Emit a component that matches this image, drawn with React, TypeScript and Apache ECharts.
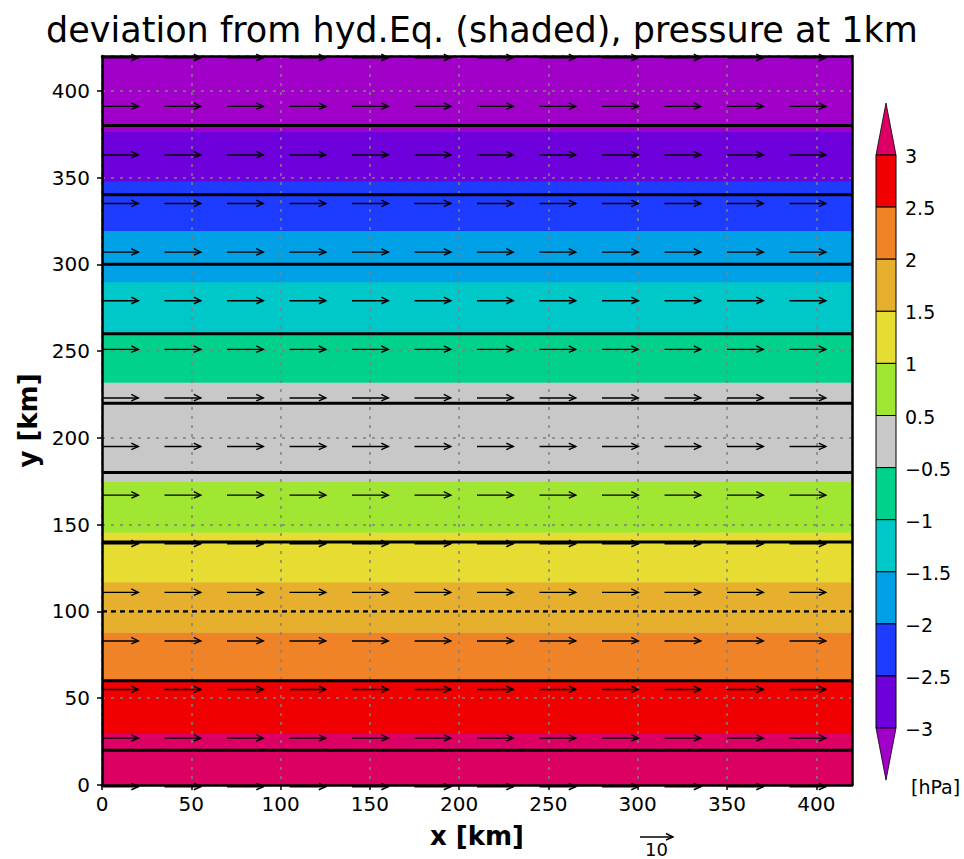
import React, { useEffect, useRef } from 'react';
import * as echarts from 'echarts';

// colour palette, from highest value (top of colour bar / bottom of map) to lowest
const palette = ['#dc0064', '#f00000', '#f08228', '#e6af2d', '#e6dc32', '#a0e632', '#c8c8c8', '#00d28c', '#00c8c8', '#00a0e6', '#1e3cff', '#6e00dc', '#a000c8'];
// shaded bands (y in km), each with palette index
const bandBottoms = [0, 30, 60, 88, 117, 145.6, 175, 232, 259, 290, 319.4, 348, 376.5];
const bandTops = [30, 60, 88, 117, 145.6, 175, 232, 259, 290, 319.4, 348, 376.5, 420];
const bandColorIndex = [0, 1, 2, 3, 4, 5, 6, 7, 8, 9, 10, 11, 12];
// pressure contours (y in km)
const contourLevels = [20, 60, 100, 140, 180, 220, 260, 300, 340, 380];
const dashedContours = [100];
// wind vectors
const arrowRows = [-1, 27, 55, 83, 111, 139, 167, 195, 223, 251, 279, 307, 335, 363, 391, 419];
const arrowCols = [0, 35, 70, 105, 140, 175, 210, 245, 280, 315, 350, 385];
const windU = [11, 11, 11, 11, 11, 11, 11, 11, 11, 11, 11, 11, 11, 11, 11, 11];
const refVector = 10;
// colour bar labels
const colorbarLabels = ['3', '2.5', '2', '1.5', '1', '0.5', '\u22120.5', '\u22121', '\u22121.5', '\u22122', '\u22122.5', '\u22123'];
const colorbarUnit = '[hPa]';

const X_MAX = 420;
const Y_MAX = 420;
const PX_PER_UNIT = 3.3;

export default function App() {
  const ref = useRef<HTMLDivElement>(null);
  useEffect(() => {
    if (!ref.current) return;
    const chart = echarts.init(ref.current, null, { renderer: 'svg' });

    const bandData = bandBottoms.map((b, i) => [b, bandTops[i], bandColorIndex[i]]);
    const contourData = contourLevels.map((l) => [l, dashedContours.includes(l) ? 1 : 0]);
    const arrowData: number[][] = [];
    arrowRows.forEach((y, r) => {
      arrowCols.forEach((x) => arrowData.push([x, y, windU[r]]));
    });

    const arrowShape = (x0: number, y0: number, len: number) => {
      const x1 = x0 + len;
      return [
        { type: 'line', shape: { x1: x0, y1: y0, x2: x1, y2: y0 }, style: { stroke: '#000', lineWidth: 1.4 } },
        { type: 'polyline', shape: { points: [[x1 - 7, y0 - 3.5], [x1, y0], [x1 - 7, y0 + 3]] }, style: { stroke: '#000', fill: 'none', lineWidth: 1.4 } },
      ];
    };

    // colour bar graphics
    const cbX = 876, cbW = 20, cbTop = 155, cbStep = 52.1, triH = 52;
    const nBoxes = colorbarLabels.length - 1;
    const cbBottom = cbTop + nBoxes * cbStep;
    const graphics: any[] = [];
    graphics.push({
      type: 'polygon',
      shape: { points: [[cbX, cbTop], [cbX + cbW / 2, cbTop - triH], [cbX + cbW, cbTop]] },
      style: { fill: palette[0], stroke: '#000', lineWidth: 0.8 },
    });
    for (let i = 0; i < nBoxes; i++) {
      graphics.push({
        type: 'rect',
        shape: { x: cbX, y: cbTop + i * cbStep, width: cbW, height: cbStep },
        style: { fill: palette[i + 1], stroke: '#000', lineWidth: 1 },
      });
    }
    graphics.push({
      type: 'polygon',
      shape: { points: [[cbX, cbBottom], [cbX + cbW / 2, cbBottom + triH], [cbX + cbW, cbBottom]] },
      style: { fill: palette[palette.length - 1], stroke: '#000', lineWidth: 0.8 },
    });
    colorbarLabels.forEach((lab, i) => {
      graphics.push({
        type: 'text',
        x: 905,
        y: cbTop + i * cbStep + 1,
        style: { text: lab, fill: '#000', font: '19px "DejaVu Sans"', textVerticalAlign: 'middle', textAlign: 'left' },
      });
    });
    graphics.push({
      type: 'text',
      x: 911,
      y: 787,
      style: { text: colorbarUnit, fill: '#000', font: '19px "DejaVu Sans"', textVerticalAlign: 'middle', textAlign: 'left' },
    });
    // reference vector
    const refLen = refVector * PX_PER_UNIT;
    graphics.push({
      type: 'group',
      children: arrowShape(640, 837, refLen),
    });
    graphics.push({
      type: 'text',
      x: 640 + refLen / 2,
      y: 849,
      style: { text: String(refVector), fill: '#000', font: '18px "DejaVu Sans"', textVerticalAlign: 'middle', textAlign: 'center' },
    });

    const option: any = {
      animation: false,
      backgroundColor: '#fff',
      textStyle: { fontFamily: 'DejaVu Sans' },
      title: {
        text: 'deviation from hyd.Eq. (shaded), pressure at 1km',
        left: 'center',
        top: 7,
        textStyle: { fontFamily: 'DejaVu Sans', fontWeight: 'normal', fontSize: 35, color: '#000' },
      },
      grid: { left: 102, top: 56, width: 750, height: 729, show: false },
      xAxis: [
        {
          type: 'value', min: 0, max: X_MAX, interval: 50, position: 'bottom', z: 3,
          name: 'x [km]', nameLocation: 'middle', nameGap: 38,
          nameTextStyle: { fontSize: 26, fontWeight: 'bold', color: '#000', fontFamily: 'DejaVu Sans' },
          axisLine: { show: true, lineStyle: { color: '#000', width: 2.5 } },
          axisTick: { show: true, inside: false, length: 5, lineStyle: { color: '#000', width: 1.5 } },
          axisLabel: { fontSize: 20, color: '#000', margin: 9, showMaxLabel: false },
          splitLine: { show: true, lineStyle: { color: '#808080', width: 1.5, type: [3, 6] } },
        },
        {
          type: 'value', min: 0, max: X_MAX, position: 'top', z: 6,
          axisLine: { show: true, onZero: false, lineStyle: { color: '#000', width: 2.5 } },
          axisTick: { show: false }, axisLabel: { show: false }, splitLine: { show: false },
        },
      ],
      yAxis: [
        {
          type: 'value', min: 0, max: Y_MAX, interval: 50, position: 'left', z: 3,
          name: 'y [km]', nameLocation: 'middle', nameGap: 58, nameRotate: 90,
          nameTextStyle: { fontSize: 26, fontWeight: 'bold', color: '#000', fontFamily: 'DejaVu Sans' },
          axisLine: { show: true, lineStyle: { color: '#000', width: 2.5 } },
          axisTick: { show: true, inside: false, length: 5, lineStyle: { color: '#000', width: 1.5 } },
          axisLabel: { fontSize: 20, color: '#000', margin: 12, showMaxLabel: false },
          splitLine: { show: true, lineStyle: { color: '#808080', width: 1.5, type: [3, 6] } },
        },
        {
          type: 'value', min: 0, max: Y_MAX, position: 'right', z: 6,
          axisLine: { show: true, onZero: false, lineStyle: { color: '#000', width: 2.5 } },
          axisTick: { show: false }, axisLabel: { show: false }, splitLine: { show: false },
        },
      ],
      series: [
        {
          type: 'custom', name: 'shading', z: 1, silent: true,
          xAxisIndex: 0, yAxisIndex: 0,
          encode: { y: [0, 1] },
          data: bandData,
          renderItem: (params: any, api: any) => {
            const y0 = api.value(0), y1 = api.value(1), ci = api.value(2);
            const p0 = api.coord([0, y0]);
            const p1 = api.coord([X_MAX, y1]);
            return {
              type: 'rect',
              shape: { x: p0[0], y: p1[1], width: p1[0] - p0[0], height: p0[1] - p1[1] + 0.5 },
              style: { fill: palette[ci], stroke: null },
            };
          },
        },
        {
          type: 'custom', name: 'contours', z: 4, silent: true,
          xAxisIndex: 0, yAxisIndex: 0,
          encode: { y: 0 },
          data: contourData,
          renderItem: (params: any, api: any) => {
            const lv = api.value(0), dashed = api.value(1);
            const a = api.coord([0, lv]);
            const b = api.coord([X_MAX, lv]);
            return {
              type: 'line',
              shape: { x1: a[0], y1: a[1], x2: b[0], y2: b[1] },
              style: { stroke: '#000', lineWidth: dashed ? 2.2 : 3, lineDash: dashed ? [5, 4] : null },
            };
          },
        },
        {
          type: 'custom', name: 'wind', z: 5, silent: true,
          xAxisIndex: 0, yAxisIndex: 0,
          encode: { x: 0, y: 1 },
          data: arrowData,
          renderItem: (params: any, api: any) => {
            const p = api.coord([api.value(0), api.value(1)]);
            const len = api.value(2) * PX_PER_UNIT;
            return { type: 'group', children: arrowShape(p[0], p[1], len) };
          },
        },
      ],
      graphic: graphics,
    };
    chart.setOption(option);
    return () => chart.dispose();
  }, []);
  return <div ref={ref} style={{ position: 'fixed', left: 0, top: 0, width: 964, height: 859 }} />;
}
